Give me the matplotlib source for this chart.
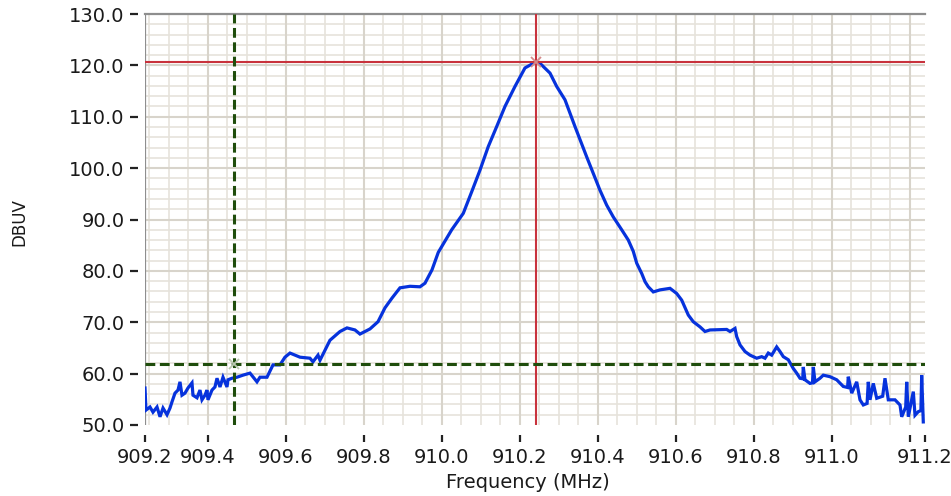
import numpy as np
import matplotlib
matplotlib.use("Agg")
import matplotlib.pyplot as plt

# Spectrum trace: frequency (MHz) and level (dBuV)
freq_mhz = [
    909.2385, 909.2410, 909.2513, 909.2590, 909.2693, 909.2770, 909.2847, 909.2949,
    909.3026, 909.3077, 909.3154, 909.3231, 909.3282, 909.3333, 909.3410, 909.3487,
    909.3590, 909.3615, 909.3718, 909.3795, 909.3846, 909.3923, 909.3974, 909.4000,
    909.4103, 909.4179, 909.4231, 909.4308, 909.4385, 909.4487, 909.4513, 909.4615,
    909.4744, 909.4897, 909.5077, 909.5256, 909.5333, 909.5513, 909.5667, 909.5846,
    909.5974, 909.6103, 909.6359, 909.6615, 909.6692, 909.6821, 909.6872, 909.7128,
    909.7385, 909.7564, 909.7769, 909.7897, 909.8154, 909.8359, 909.8538, 909.8718,
    909.8923, 909.9179, 909.9436, 909.9564, 909.9744, 909.9905, 910.0249, 910.0546,
    910.0762, 910.0974, 910.1187, 910.1403, 910.1615, 910.1872, 910.2128, 910.2410,
    910.2513, 910.2769, 910.2941, 910.3154, 910.3410, 910.3710, 910.3879, 910.4051,
    910.4223, 910.4392, 910.4608, 910.4777, 910.4905, 910.4993, 910.5121, 910.5206,
    910.5290, 910.5418, 910.5590, 910.5847, 910.6018, 910.6147, 910.6316, 910.6444,
    910.6616, 910.6744, 910.6872, 910.7300, 910.7385, 910.7513, 910.7557, 910.7641,
    910.7770, 910.7898, 910.8070, 910.8198, 910.8282, 910.8367, 910.8454, 910.8582,
    910.8667, 910.8752, 910.8880, 910.9008, 910.9095, 910.9180, 910.9250, 910.9264,
    910.9308, 910.9436, 910.9500, 910.9521, 910.9564, 910.9693, 910.9777, 910.9949,
    911.0121, 911.0290, 911.0400, 911.0418, 911.0506, 911.0634, 911.0718, 911.0803,
    911.0900, 911.0931, 911.0975, 911.1059, 911.1147, 911.1300, 911.1359, 911.1444,
    911.1616, 911.1744, 911.1788, 911.1890, 911.1916, 911.1957, 911.2085, 911.2129,
    911.2213, 911.2280, 911.2300, 911.2341,
]
level_dbuv = [
    57.2, 52.9, 53.5, 52.5, 53.5, 51.6, 53.3, 52.0,
    53.3, 54.5, 56.2, 56.8, 58.4, 55.8, 56.2, 57.2,
    58.2, 55.8, 55.3, 56.8, 54.9, 55.8, 56.8, 54.9,
    56.8, 57.4, 59.1, 57.4, 59.3, 57.4, 58.8, 59.1,
    59.3, 59.7, 60.1, 58.4, 59.3, 59.3, 61.7, 61.7,
    63.2, 64.0, 63.2, 63.0, 62.3, 63.6, 62.6, 66.5,
    68.2, 68.9, 68.5, 67.7, 68.7, 70.1, 72.8, 74.7,
    76.7, 77.0, 76.9, 77.6, 80.2, 83.6, 88.0, 91.2,
    95.4, 99.6, 104.2, 108.1, 112.0, 115.9, 119.5, 120.7,
    120.4, 118.5, 115.9, 113.3, 108.1, 102.2, 99.0, 95.7,
    92.8, 90.5, 88.0, 86.0, 83.8, 81.5, 79.5, 77.9,
    76.9, 75.9, 76.3, 76.6, 75.6, 74.3, 71.4, 70.1,
    69.1, 68.2, 68.5, 68.6, 68.2, 68.8, 67.2, 65.6,
    64.3, 63.6, 63.0, 63.3, 63.0, 64.0, 63.6, 65.2,
    64.3, 63.3, 62.7, 61.0, 60.1, 59.1, 59.0, 61.3,
    58.8, 58.1, 58.2, 61.3, 58.4, 59.1, 59.7, 59.4,
    58.8, 57.5, 57.3, 59.4, 56.2, 58.4, 54.9, 53.9,
    54.2, 58.4, 54.9, 58.1, 55.2, 55.6, 59.1, 54.9,
    54.9, 53.9, 51.6, 53.5, 58.4, 51.6, 56.5, 51.9,
    52.6, 52.8, 59.7, 50.6,
]

# Second (threshold) cursor position
cursor2_freq = 909.466
cursor2_level = 61.8

x_min, x_max = 909.2385, 911.2385
y_min, y_max = 50.0, 130.0
x_major = [909.4, 909.6, 909.8, 910.0, 910.2, 910.4, 910.6, 910.8, 911.0, 911.2]
y_major = [50, 60, 70, 80, 90, 100, 110, 120, 130]

GRID_MINOR = "#e6e3dc"
GRID_MAJOR = "#d8d4cb"
FRAME = "#8e8e8e"
TRACE = "#0632dc"
CURSOR1 = "#c8323c"
CURSOR2 = "#1f4d0c"
TICK = "#222222"
TEXT = "#1a1a1a"

plt.rcParams["font.family"] = ["DejaVu Sans"]

fig = plt.figure(figsize=(9.51, 4.96), dpi=100)
ax = fig.add_axes([145 / 951, 71 / 496, 780 / 951, 411 / 496])
ax.set_xlim(x_min, x_max)
ax.set_ylim(y_min, y_max)

# Grid: minor every 0.05 MHz / 2 dB, major every 0.2 MHz / 10 dB
x_minor = np.arange(909.25, 911.2001, 0.05)
y_minor = np.arange(52, 130, 2)
ax.vlines(x_minor, y_min, y_max, colors=GRID_MINOR, lw=1.2, zorder=1)
ax.hlines(y_minor, x_min, x_max, colors=GRID_MINOR, lw=1.2, zorder=1)
ax.vlines(x_major, y_min, y_max, colors=GRID_MAJOR, lw=1.5, zorder=1.1)
ax.hlines(y_major[1:-1], x_min, x_max, colors=GRID_MAJOR, lw=1.5, zorder=1.1)

# Frame: gray left and top edges; the left/bottom spines only carry the
# tick marks, pushed outward so the marks sit apart from the plot area
ax.spines["right"].set_visible(False)
ax.spines["top"].set_color(FRAME)
ax.spines["top"].set_linewidth(1.6)
ax.spines["left"].set_position(("outward", 5))
ax.spines["bottom"].set_position(("outward", 7))
ax.spines["left"].set_color("none")
ax.spines["bottom"].set_color("none")
ax.axvline(x_min, color=FRAME, lw=1.6, zorder=3)

# Trace
ax.plot(freq_mhz, level_dbuv, color=TRACE, lw=2.3, solid_joinstyle="miter",
        zorder=4)

# Peak cursor
i_peak = int(np.argmax(level_dbuv))
pk_f, pk_l = freq_mhz[i_peak], level_dbuv[i_peak]
ax.axvline(pk_f, color=CURSOR1, lw=1.5, zorder=5)
ax.axhline(pk_l, color=CURSOR1, lw=1.5, zorder=5)
ax.plot([pk_f], [pk_l], marker="x", ms=7, mew=1.3, color="#d48a8a", zorder=6)

# Threshold cursor
ax.axvline(cursor2_freq, color=CURSOR2, lw=2.2, ls=(0, (3.2, 1.5)), zorder=5)
ax.axhline(cursor2_level, color=CURSOR2, lw=2.2, ls=(0, (3.2, 1.5)), zorder=5)
ax.plot([cursor2_freq], [cursor2_level], marker="x", ms=7, mew=1.3,
        color="#b9c8b0", zorder=6)

# Ticks
xt = [x_min] + x_major + [x_max]
xl = ["909.2"] + ["%.1f" % v for v in x_major[:-1]] + ["", "911.2"]
ax.set_xticks(xt)
ax.set_xticklabels(xl)
ax.set_yticks(y_major)
ax.set_yticklabels(["%.1f" % v for v in y_major])
ax.tick_params(axis="y", direction="out", length=6.0, width=1.6,
               color=TICK, pad=3.6, labelsize=14, labelcolor=TEXT)
ax.tick_params(axis="x", direction="out", length=5.0, width=1.6,
               color=TICK, pad=4.5, labelsize=14, labelcolor=TEXT)

ax.set_xlabel("Frequency (MHz)", fontsize=14, color=TEXT)
ax.xaxis.set_label_coords((527.5 - 145) / 780, (425 - 483) / 411)
ax.xaxis.label.set_verticalalignment("center")
ax.set_ylabel("DBUV", fontsize=12, color=TEXT)
ax.yaxis.set_label_coords((19 - 145) / 780, (425 - 222) / 411)
ax.yaxis.label.set_verticalalignment("center")

fig.savefig("out.png", dpi=100, facecolor="white")
